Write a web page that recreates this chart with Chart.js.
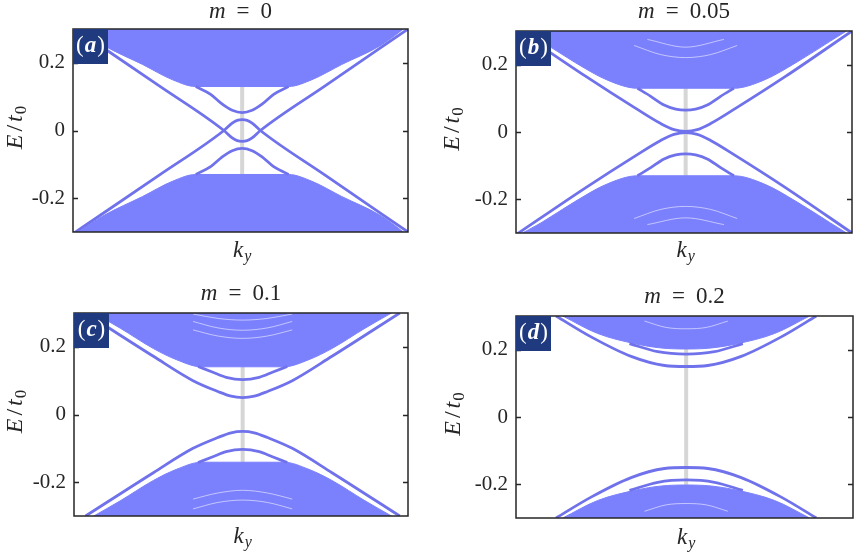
<!DOCTYPE html>
<html>
<head>
<meta charset="utf-8">
<script src="https://cdn.jsdelivr.net/npm/chart.js@4.4.1/dist/chart.umd.min.js"></script>
<style>
  html, body { margin: 0; padding: 0; background: #fff; }
  #fig { position: relative; width: 856px; height: 553px; overflow: hidden; }
  #fig canvas { position: absolute; }
</style>
</head>
<body>
<div id="fig">
  <canvas id="pa" width="428" height="276" style="left:0;top:0"></canvas>
  <canvas id="pb" width="428" height="276" style="left:428px;top:0"></canvas>
  <canvas id="pc" width="428" height="277" style="left:0;top:276px"></canvas>
  <canvas id="pd" width="428" height="277" style="left:428px;top:276px"></canvas>
</div>
<script>
// y axis
const yTicks = [-0.2, 0, 0.2];
const yTickLabels = ['-0.2', '0', '0.2'];
const panelTitles = ['0', '0.05', '0.1', '0.2'];
const panelLetters = ['a', 'b', 'c', 'd'];

// (a) m = 0
const aBulkK = [-1.02, -0.83, -0.6, -0.42, -0.28, 0.28, 0.42, 0.6, 0.83, 1.0];
const aBulkUp = [0.31, 0.25, 0.195, 0.15, 0.13, 0.13, 0.15, 0.195, 0.25, 0.31];
const aBulkDn = [-0.31, -0.25, -0.195, -0.15, -0.13, -0.13, -0.15, -0.195, -0.25, -0.31];
const aOuterK = [-1.02, -0.5, -0.11, -0.06, -0.03, 0, 0.03, 0.06, 0.11, 0.5, 1.0];
const aOuterV = [0.305, 0.132, 0, -0.022, -0.03, -0.032, -0.03, -0.022, 0, 0.132, 0.30];
const aOuterL = [-0.305, -0.132, 0, 0.022, 0.03, 0.032, 0.03, 0.022, 0, -0.132, -0.30];
const aInnerK = [-0.28, -0.19, -0.12, -0.06, 0, 0.06, 0.12, 0.19, 0.28];
const aInnerUp = [0.13, 0.107, 0.078, 0.06, 0.053, 0.06, 0.078, 0.107, 0.13];
const aInnerDn = [-0.13, -0.107, -0.078, -0.06, -0.053, -0.06, -0.078, -0.107, -0.13];

// (b) m = 0.05
const bBulkK = [-1.02, -0.87, -0.67, -0.47, -0.29, 0.29, 0.47, 0.67, 0.87, 1.0];
const bBulkUp = [0.31, 0.27, 0.208, 0.154, 0.13, 0.13, 0.154, 0.208, 0.27, 0.31];
const bBulkDn = [-0.31, -0.27, -0.208, -0.154, -0.13, -0.13, -0.154, -0.208, -0.27, -0.31];
const bOuterK = [-1.02, -0.6, -0.3, -0.15, -0.07, 0, 0.07, 0.15, 0.3, 0.6, 1.0];
const bOuterUp = [0.305, 0.165, 0.07, 0.025, 0.007, 0.002, 0.007, 0.025, 0.07, 0.165, 0.30];
const bOuterDn = [-0.305, -0.165, -0.07, -0.025, -0.007, -0.002, -0.007, -0.025, -0.07, -0.165, -0.30];
const bInnerK = [-0.29, -0.21, -0.13, -0.06, 0, 0.06, 0.13, 0.21, 0.29];
const bInnerUp = [0.13, 0.106, 0.08, 0.068, 0.065, 0.068, 0.08, 0.106, 0.13];
const bInnerDn = [-0.13, -0.106, -0.08, -0.068, -0.065, -0.068, -0.08, -0.106, -0.13];
const bStreakK = [-0.31, -0.15, 0, 0.15, 0.31];
const bStreakUp = [0.257, 0.23, 0.221, 0.23, 0.257];
const bStreakDn = [-0.257, -0.23, -0.221, -0.23, -0.257];
const bStreak2K = [-0.23, 0, 0.23];
const bStreak2Up = [0.275, 0.252, 0.275];
const bStreak2Dn = [-0.275, -0.255, -0.275];

// (c) m = 0.1
const cBulkK = [-0.9, -0.74, -0.54, -0.4, -0.25, 0.25, 0.4, 0.54, 0.74, 0.9];
const cBulkUp = [0.30, 0.255, 0.195, 0.162, 0.141, 0.141, 0.162, 0.195, 0.255, 0.30];
const cBulkDn = [-0.30, -0.255, -0.195, -0.162, -0.141, -0.141, -0.162, -0.195, -0.255, -0.30];
const cOuterK = [-0.95, -0.54, -0.3, -0.15, -0.07, 0, 0.07, 0.15, 0.3, 0.54, 0.95];
const cOuterUp = [0.30, 0.172, 0.1, 0.068, 0.054, 0.05, 0.054, 0.068, 0.1, 0.172, 0.30];
const cOuterDn = [-0.30, -0.172, -0.1, -0.068, -0.054, -0.05, -0.054, -0.068, -0.1, -0.172, -0.30];
const cInnerK = [-0.27, -0.18, -0.1, 0, 0.1, 0.18, 0.27];
const cInnerUp = [0.142, 0.125, 0.11, 0.103, 0.11, 0.125, 0.142];
const cInnerDn = [-0.142, -0.125, -0.11, -0.103, -0.11, -0.125, -0.142];
const cStreakK = [-0.3, -0.15, 0, 0.15, 0.3];
const cStreakUp1 = [0.25, 0.232, 0.225, 0.232, 0.25];
const cStreakUp2 = [0.275, 0.256, 0.249, 0.256, 0.275];
const cStreakUp3 = [0.297, 0.284, 0.279, 0.284, 0.297];
const cStreakDn1 = [-0.25, -0.232, -0.224, -0.232, -0.25];
const cStreakDn2 = [-0.279, -0.26, -0.253, -0.26, -0.279];

// (d) m = 0.2
const dBulkK = [-0.74, -0.53, -0.3, -0.15, 0, 0.15, 0.3, 0.53, 0.74];
const dBulkUp = [0.30, 0.248, 0.217, 0.205, 0.202, 0.205, 0.217, 0.248, 0.30];
const dBulkDn = [-0.30, -0.248, -0.217, -0.205, -0.202, -0.205, -0.217, -0.248, -0.30];
const dOuterK = [-0.78, -0.57, -0.33, -0.13, 0, 0.13, 0.33, 0.57, 0.78];
const dOuterUp = [0.30, 0.238, 0.18, 0.153, 0.15, 0.153, 0.18, 0.238, 0.30];
const dOuterDn = [-0.30, -0.238, -0.18, -0.153, -0.15, -0.153, -0.18, -0.238, -0.30];
const dInnerK = [-0.34, -0.17, 0, 0.17, 0.34];
const dInnerUp = [0.218, 0.194, 0.187, 0.194, 0.218];
const dInnerDn = [-0.218, -0.194, -0.187, -0.194, -0.218];
const dStreakK = [-0.25, -0.12, 0, 0.12, 0.25];
const dStreakUp = [0.285, 0.266, 0.262, 0.266, 0.285];
const dStreakDn = [-0.28, -0.261, -0.257, -0.261, -0.28];

const BULK = 'rgb(123,128,253)';
const EDGE = 'rgb(112,114,236)';
const INK = '#262626';
const NAVY = '#1f3a7e';
const SERIF = '"Liberation Serif", "DejaVu Serif", serif';

function pts(ks, es) {
    return ks.map((k, i) => ({ x: k, y: es[i] }));
}

function bulk(ks, es, fillTo) {
    return {
        data: pts(ks, es), fill: fillTo, backgroundColor: BULK, borderColor: BULK,
        borderWidth: 1, pointRadius: 0, cubicInterpolationMode: 'monotone', order: 2
    };
}

function edge(ks, es) {
    return {
        data: pts(ks, es), fill: false, borderColor: EDGE, borderWidth: 2.8,
        pointRadius: 0, cubicInterpolationMode: 'monotone', order: 0
    };
}

function streak(ks, es) {
    return {
        data: pts(ks, es), fill: false, borderColor: 'rgba(255,255,255,0.55)', borderWidth: 1,
        pointRadius: 0, cubicInterpolationMode: 'monotone', order: 1
    };
}

function grayLine() {
    return {
        data: [{ x: 0, y: -0.3 }, { x: 0, y: 0.3 }], fill: false, borderColor: '#d6d6d6',
        borderWidth: 4, pointRadius: 0, tension: 0, order: 3
    };
}

// draws pieces of text with different fonts one after another, centred on cx
function drawParts(ctx, parts, cx, cy) {
    let total = 0;
    parts.forEach(p => { ctx.font = p.font; total += ctx.measureText(p.t).width + (p.gap || 0); });
    let x = cx - total / 2;
    ctx.textBaseline = 'middle';
    ctx.textAlign = 'left';
    parts.forEach(p => {
        ctx.font = p.font;
        ctx.fillText(p.t, x, cy + (p.dy || 0));
        x += ctx.measureText(p.t).width + (p.gap || 0);
    });
}

const decor = {
    id: 'decor',
    afterDatasetsDraw(chart, args, opts) {
        const { ctx, chartArea: a, scales } = chart;
        ctx.save();
        ctx.strokeStyle = INK;
        ctx.lineWidth = 1.5;
        ctx.strokeRect(a.left, a.top, a.right - a.left, a.bottom - a.top);
        yTicks.forEach(v => {
            const y = Math.round(scales.y.getPixelForValue(v)) + 0.5;
            ctx.beginPath();
            ctx.moveTo(a.left, y); ctx.lineTo(a.left + 5, y);
            ctx.moveTo(a.right, y); ctx.lineTo(a.right - 5, y);
            ctx.stroke();
        });
        // panel letter box
        ctx.fillStyle = NAVY;
        ctx.fillRect(a.left, a.top, 35, 35);
        ctx.fillStyle = '#fff';
        drawParts(ctx, [
            { t: '(', font: '23px ' + SERIF, gap: 1 },
            { t: opts.letter, font: 'italic bold 23px ' + SERIF, gap: 1 },
            { t: ')', font: '23px ' + SERIF }
        ], a.left + 17.5, a.top + 17);
        ctx.restore();
    },
    afterDraw(chart, args, opts) {
        const { ctx, chartArea: a } = chart;
        const cx = (a.left + a.right) / 2;
        ctx.save();
        ctx.fillStyle = INK;
        drawParts(ctx, [
            { t: 'm', font: 'italic 23px ' + SERIF, gap: 11 },
            { t: '=', font: '23px ' + SERIF, gap: 11 },
            { t: opts.title, font: '23px ' + SERIF }
        ], cx, opts.titleY);
        const kx = chart.scales.x.getPixelForValue(0);
        drawParts(ctx, [
            { t: 'k', font: 'italic 23px ' + SERIF, gap: 1 },
            { t: 'y', font: 'italic 16px ' + SERIF, dy: 6 }
        ], kx, opts.xLabelY);
        ctx.translate(opts.yLabelX, (a.top + a.bottom) / 2 - 3);
        ctx.rotate(-Math.PI / 2);
        drawParts(ctx, [
            { t: 'E', font: 'italic 24px ' + SERIF, gap: 3 },
            { t: '/', font: '24px ' + SERIF, gap: 3 },
            { t: 't', font: 'italic 24px ' + SERIF, gap: 1 },
            { t: '0', font: '17px ' + SERIF, dy: 6 }
        ], 0, 0);
        ctx.restore();
    }
};

function makePanel(id, idx, datasets, lay) {
    new Chart(document.getElementById(id), {
        type: 'line',
        data: { datasets: datasets },
        plugins: [decor],
        options: {
            responsive: false,
            animation: false,
            devicePixelRatio: 1,
            events: [],
            layout: { padding: { top: lay.top, right: lay.right, left: 0, bottom: 0 } },
            plugins: {
                legend: { display: false },
                tooltip: { enabled: false },
                decor: {
                    letter: panelLetters[idx], title: panelTitles[idx],
                    titleY: lay.titleY, xLabelY: lay.xLabelY, yLabelX: lay.yLabelX
                }
            },
            scales: {
                x: {
                    type: 'linear', min: -1.02, max: 1.0,
                    ticks: { display: false },
                    grid: { display: false, drawTicks: false },
                    border: { display: false },
                    afterFit: s => { s.height = lay.xh; }
                },
                y: {
                    type: 'linear', min: -0.3, max: 0.3,
                    afterBuildTicks: s => { s.ticks = yTicks.map(v => ({ value: v })); },
                    ticks: {
                        callback: (v, i) => yTickLabels[i],
                        font: { family: SERIF, size: 21 },
                        color: INK, padding: 8
                    },
                    grid: { display: false, drawTicks: false },
                    border: { display: false },
                    afterFit: s => { s.width = lay.yw; }
                }
            }
        }
    });
}

makePanel('pa', 0, [
    edge(aOuterK, aOuterV), edge(aOuterK, aOuterL),
    edge(aInnerK, aInnerUp), edge(aInnerK, aInnerDn),
    bulk(aBulkK, aBulkUp, 'end'), bulk(aBulkK, aBulkDn, 'start'),
    grayLine()
], { top: 29, right: 20, xh: 44, yw: 73, titleY: 12, xLabelY: 251, yLabelX: 16 });

makePanel('pb', 1, [
    edge(bOuterK, bOuterUp), edge(bOuterK, bOuterDn),
    edge(bInnerK, bInnerUp), edge(bInnerK, bInnerDn),
    streak(bStreakK, bStreakUp), streak(bStreakK, bStreakDn),
    streak(bStreak2K, bStreak2Up), streak(bStreak2K, bStreak2Dn),
    bulk(bBulkK, bBulkUp, 'end'), bulk(bBulkK, bBulkDn, 'start'),
    grayLine()
], { top: 31, right: 4, xh: 43, yw: 88, titleY: 12, xLabelY: 251, yLabelX: 25 });

makePanel('pc', 2, [
    edge(cOuterK, cOuterUp), edge(cOuterK, cOuterDn),
    edge(cInnerK, cInnerUp), edge(cInnerK, cInnerDn),
    streak(cStreakK, cStreakUp1), streak(cStreakK, cStreakUp2), streak(cStreakK, cStreakUp3),
    streak(cStreakK, cStreakDn1), streak(cStreakK, cStreakDn2),
    bulk(cBulkK, cBulkUp, 'end'), bulk(cBulkK, cBulkDn, 'start'),
    grayLine()
], { top: 37, right: 20, xh: 37, yw: 74, titleY: 18, xLabelY: 261, yLabelX: 16 });

makePanel('pd', 3, [
    edge(dOuterK, dOuterUp), edge(dOuterK, dOuterDn),
    edge(dInnerK, dInnerUp), edge(dInnerK, dInnerDn),
    streak(dStreakK, dStreakUp), streak(dStreakK, dStreakDn),
    bulk(dBulkK, dBulkUp, 'end'), bulk(dBulkK, dBulkDn, 'start'),
    grayLine()
], { top: 40, right: 3, xh: 35, yw: 88, titleY: 21, xLabelY: 262, yLabelX: 26 });
</script>
</body>
</html>
